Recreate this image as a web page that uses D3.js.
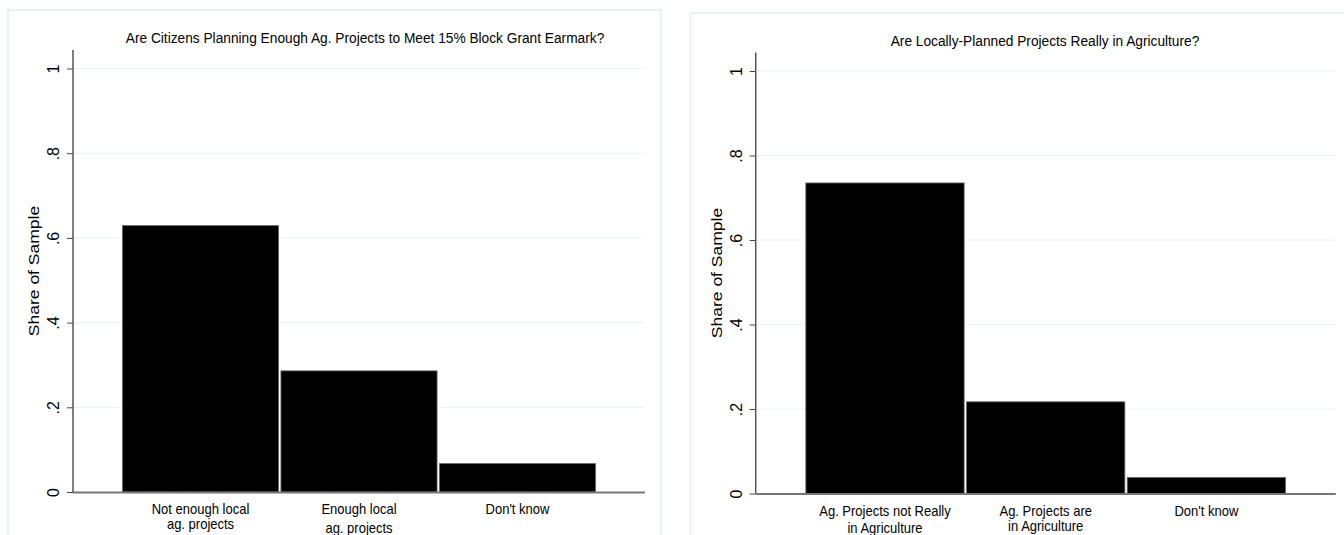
<!DOCTYPE html>
<html>
<head>
<meta charset="utf-8">
<script src="https://cdn.jsdelivr.net/npm/d3@7"></script>
<style>
  html, body { margin: 0; padding: 0; background: #fff; }
  svg { display: block; }
  text { font-family: "Liberation Sans", Arial, "DejaVu Sans", sans-serif; fill: #000; }
</style>
</head>
<body>
<svg id="chart" width="1344" height="535"></svg>
<script>
// ---------- data ----------
const leftTitle = "Are Citizens Planning Enough Ag. Projects to Meet 15% Block Grant Earmark?";
const leftCategories = [["Not enough local", "ag. projects"], ["Enough local", "ag. projects"], ["Don't know"]];
const leftValues = [0.629, 0.286, 0.067];

const rightTitle = "Are Locally-Planned Projects Really in Agriculture?";
const rightCategories = [["Ag. Projects not Really", "in Agriculture"], ["Ag. Projects are", "in Agriculture"], ["Don't know"]];
const rightValues = [0.735, 0.217, 0.038];

const yTickValues = [0, 0.2, 0.4, 0.6, 0.8, 1];
const yTickLabels = ["0", ".2", ".4", ".6", ".8", "1"];
const yAxisTitle = "Share of Sample";

// ---------- layout ----------
const panels = [
  { title: leftTitle, cats: leftCategories, vals: leftValues,
    box: [8, 10, 661, 600], x0: 73, x1: 645, y0: 492, y1: 68.5, titleX: 365, titleY: 43,
    line2: [15, 19, 15] },
  { title: rightTitle, cats: rightCategories, vals: rightValues,
    box: [690.5, 13.3, 1400, 600], x0: 755.7, x1: 1335.7, y0: 493.5, y1: 71, titleX: 1045, titleY: 46,
    line2: [17, 15, 15] }
];

const svg = d3.select("#chart");

panels.forEach(p => {
  const g = svg.append("g");
  // panel border
  g.append("rect")
    .attr("x", p.box[0]).attr("y", p.box[1])
    .attr("width", p.box[2] - p.box[0]).attr("height", p.box[3] - p.box[1])
    .attr("fill", "#fff").attr("stroke", "#e4eef0").attr("stroke-width", 1.5);

  const labels = p.cats.map(c => c.join(" "));
  const x = d3.scaleBand().domain(labels).range([p.x0, p.x1])
    .paddingInner(0.015).paddingOuter(0.312);
  const y = d3.scaleLinear().domain([0, 1]).range([p.y0, p.y1]);

  // gridlines
  g.append("g").selectAll("line").data(yTickValues.filter(v => v > 0)).join("line")
    .attr("x1", p.x0).attr("x2", p.x1)
    .attr("y1", d => y(d)).attr("y2", d => y(d))
    .attr("stroke", "#eaf2f3").attr("stroke-width", 1);

  // bars
  g.append("g").selectAll("rect").data(p.vals).join("rect")
    .attr("x", (d, i) => x(labels[i]))
    .attr("y", d => y(d))
    .attr("width", x.bandwidth())
    .attr("height", d => y(0) - y(d))
    .attr("fill", "#000").attr("stroke", "#666").attr("stroke-width", 0.8);

  // y axis
  const yAxis = d3.axisLeft(y).tickValues(yTickValues)
    .tickFormat((d, i) => yTickLabels[i]).tickSize(6).tickPadding(8);
  const ya = g.append("g").attr("transform", `translate(${p.x0},0)`).call(yAxis);
  ya.select(".domain").remove();
  ya.selectAll(".tick line").attr("stroke", "#444").attr("stroke-width", 1);
  ya.selectAll(".tick text")
    .attr("x", null).attr("dy", null)
    .attr("text-anchor", "middle")
    .attr("font-size", 16)
    .attr("transform", "translate(-14,0) rotate(-90)")
    .attr("fill", "#000");
  g.append("line")
    .attr("x1", p.x0).attr("x2", p.x0)
    .attr("y1", y(0)).attr("y2", y(1) - 18.5)
    .attr("stroke", "#555").attr("stroke-width", 1.5);

  // x axis
  g.append("line")
    .attr("x1", p.x0).attr("x2", p.x1)
    .attr("y1", y(0) + 0.5).attr("y2", y(0) + 0.5)
    .attr("stroke", "#777").attr("stroke-width", 2);

  // x labels
  p.cats.forEach((lines, i) => {
    const cx = x(labels[i]) + x.bandwidth() / 2;
    lines.forEach((t, j) => {
      g.append("text")
        .attr("transform", `translate(${cx},${y(0) + 22 + j * p.line2[i]}) scale(0.93,1)`)
        .attr("text-anchor", "middle")
        .attr("font-size", 14)
        .text(t);
    });
  });

  // axis title
  const midY = (y(0) + y(1) - 18.5) / 2;
  g.append("text")
    .attr("transform", `translate(${p.x0 - 34},${midY}) rotate(-90) scale(1,0.82)`)
    .attr("text-anchor", "middle")
    .attr("font-size", 17.5)
    .attr("fill", "#222")
    .text(yAxisTitle);

  // title
  g.append("text")
    .attr("transform", `translate(${p.titleX},${p.titleY}) scale(0.915,1)`)
    .attr("text-anchor", "middle")
    .attr("font-size", 15)
    .text(p.title);
});
</script>
</body>
</html>
